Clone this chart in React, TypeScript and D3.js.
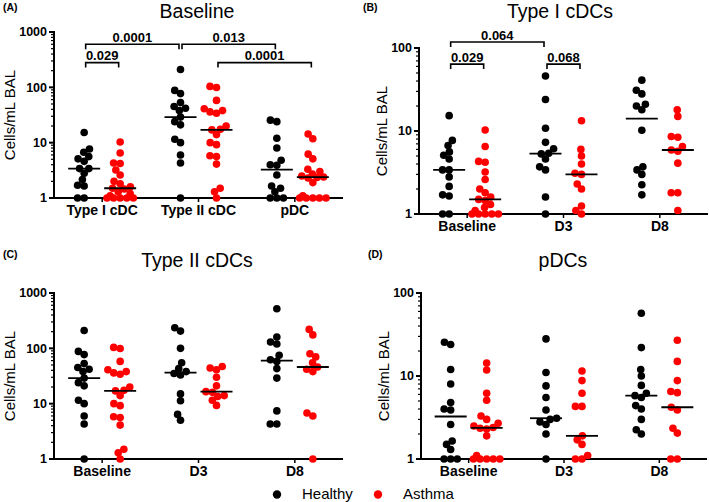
import React from 'react';
import * as d3 from 'd3';

const FONT = '"Liberation Sans", Arial, Helvetica, sans-serif';

// ---------- Data (cells/mL BAL) ----------
const groupNames = ['Healthy', 'Asthma'];
const groupColors = ['#000000', '#ff0000'];

const panelACategories = ['Type I cDC', 'Type II cDC', 'pDC'];
const timeCategories = ['Baseline', 'D3', 'D8'];

// Type I cDCs
const t1BaseHealthy = [15.3, 7.7, 6.7, 5.6, 5.1, 4.6, 3.4, 3.4, 2.8, 2.15, 1.7, 1.65, 1, 1];
const t1BaseAsthma = [10.3, 6.5, 4.3, 4.2, 3.2, 2.6, 2.0, 1.8, 1.6, 1.5, 1.45, 1.3, 1.2, 1.1, 1, 1, 1, 1, 1];
const t1D3Healthy = [46, 24, 10.8, 7.3, 6.1, 5.4, 5.3, 4.6, 3.7, 3.4, 1.6, 1];
const t1D3Asthma = [13.3, 6.0, 5.0, 4.0, 3.1, 3.0, 2.3, 2.0, 1.25, 1.1, 1];
const t1D8Healthy = [41, 31, 28, 21, 20, 18, 10.2, 3.7, 3.4, 3.0, 2.25, 1.7];
const t1D8Asthma = [18, 15, 8.6, 8.4, 6.5, 5.9, 5.7, 4.1, 1.8, 1.8, 1.1];

// Type II cDCs
const t2BaseHealthy = [210, 88, 77, 53, 45, 42, 38, 29, 24, 21, 11.5, 10, 6, 4.3, 1];
const t2BaseAsthma = [104, 99, 58, 41, 38, 36, 34, 20, 17.5, 17, 14, 10, 9.2, 5.8, 5.6, 4.1, 1.5, 1.3, 1];
const t2D3Healthy = [235, 205, 100, 55, 43, 38, 35, 33, 15, 11.3, 6.4, 5];
const t2D3Asthma = [47, 44, 41, 30, 21, 16.5, 16, 14, 13.5, 11.5, 9.3];
const t2D8Healthy = [520, 160, 130, 120, 75, 62, 58, 43, 29, 7.4, 4.3, 4.3];
const t2D8Asthma = [220, 175, 80, 70, 55, 46, 42, 38, 6.8, 6.0, 1];

// pDCs
const pdcBaseHealthy = [25.5, 24, 12, 8, 4.8, 4, 3.9, 2.6, 1.65, 1.5, 1.3, 1, 1, 1];
const pdcBaseAsthma = [14.3, 11.8, 6.2, 5.1, 3.3, 3.0, 2.7, 2.5, 2.4, 2.35, 2.3, 1.9, 1.1, 1, 1, 1, 1, 1];
const pdcD3Healthy = [28, 11, 7.6, 5.5, 3.9, 3.1, 3.0, 2.8, 2.6, 2.0, 1];
const pdcD3Asthma = [11.5, 8.8, 6.2, 4.3, 4.3, 1.9, 1.7, 1.5, 1.1, 1, 1];
const pdcD8Healthy = [57, 22, 12, 10, 7.7, 6.2, 5.8, 5.5, 4.4, 4.0, 3.0, 2.25, 2.0];
const pdcD8Asthma = [27, 15, 8.8, 6.5, 6.3, 4.2, 3.9, 2.35, 2.05, 1, 1];

// Significance brackets: [category, group] -> [category, group], height in data units
const bracketsA = [
  { from: [0, 0], to: [0, 1], at: 280, label: '0.029' },
  { from: [0, 0], to: [1, 0], at: 600, label: '0.0001' },
  { from: [1, 0], to: [2, 0], at: 600, label: '0.013' },
  { from: [1, 1], to: [2, 1], at: 280, label: '0.0001' },
];
const bracketsB = [
  { from: [0, 0], to: [1, 0], at: 118, label: '0.064' },
  { from: [0, 0], to: [0, 1], at: 64, label: '0.029' },
  { from: [1, 0], to: [1, 1], at: 64, label: '0.068' },
];

const panels = [
  {
    tag: '(A)', title: 'Baseline', cats: panelACategories, yMax: 1000,
    data: [[t1BaseHealthy, t1BaseAsthma], [t2BaseHealthy, t2BaseAsthma], [pdcBaseHealthy, pdcBaseAsthma]],
    brackets: bracketsA,
    box: { left: 54, right: 343, top: 32, bottom: 198, titleX: 197, titleY: 17.5, tagX: 3, tagY: 11, ylabX: 15 },
  },
  {
    tag: '(B)', title: 'Type I cDCs', cats: timeCategories, yMax: 100,
    data: [[t1BaseHealthy, t1BaseAsthma], [t1D3Healthy, t1D3Asthma], [t1D8Healthy, t1D8Asthma]],
    brackets: bracketsB,
    box: { left: 419, right: 708, top: 48, bottom: 214, titleX: 560, titleY: 17.5, tagX: 363, tagY: 11, ylabX: 387 },
  },
  {
    tag: '(C)', title: 'Type II cDCs', cats: timeCategories, yMax: 1000,
    data: [[t2BaseHealthy, t2BaseAsthma], [t2D3Healthy, t2D3Asthma], [t2D8Healthy, t2D8Asthma]],
    brackets: [],
    box: { left: 54, right: 343, top: 293, bottom: 459, titleX: 197, titleY: 267, tagX: 3, tagY: 258, ylabX: 15 },
  },
  {
    tag: '(D)', title: 'pDCs', cats: timeCategories, yMax: 100,
    data: [[pdcBaseHealthy, pdcBaseAsthma], [pdcD3Healthy, pdcD3Asthma], [pdcD8Healthy, pdcD8Asthma]],
    brackets: [],
    box: { left: 421, right: 707, top: 293, bottom: 459, titleX: 563, titleY: 267, tagX: 368, tagY: 258, ylabX: 389 },
  },
];

const R = 3.8;
const COLLIDE = 6.6;
const CAP = 14;
const GROUP_OFFSET = 18;
const MEDIAN_HALF = 16;

function swarm(ys: number[]): number[] {
  const order = ys.map((_, i) => i).sort((a, b) => ys[b] - ys[a]);
  const placed: { x: number; y: number }[] = [];
  const xs = new Array(ys.length).fill(0);
  const D = COLLIDE;
  for (const i of order) {
    const y = ys[i];
    const cands = [0];
    for (const p of placed) {
      const dy = Math.abs(p.y - y);
      if (dy < D) {
        const dx = Math.sqrt(D * D - dy * dy);
        cands.push(p.x + dx, p.x - dx);
      }
    }
    cands.sort((a, b) => Math.abs(a) - Math.abs(b) || a - b);
    let chosen: number | null = null;
    for (const c of cands) {
      if (Math.abs(c) > CAP) continue;
      if (placed.every((p) => (p.x - c) ** 2 + (p.y - y) ** 2 >= D * D - 0.01)) {
        chosen = c;
        break;
      }
    }
    if (chosen === null) {
      let best = 0;
      let bestD = -1;
      for (let c = -CAP; c <= CAP; c += 0.5) {
        const m = Math.min(...placed.map((p) => Math.hypot(p.x - c, p.y - y)));
        if (m > bestD) { bestD = m; best = c; }
      }
      chosen = best;
    }
    xs[i] = chosen;
    placed.push({ x: chosen, y });
  }
  return xs;
}

function Panel({ p }: { p: (typeof panels)[number] }) {
  const b = p.box;
  const x = d3.scalePoint<string>().domain(p.cats).range([b.left, b.right]).padding(0.5);
  const y = d3.scaleLog().domain([1, p.yMax]).range([b.bottom, b.top]);
  const ticks = y.ticks();
  const isMajor = (t: number) => Math.abs(Math.log10(t) - Math.round(Math.log10(t))) < 1e-9;
  const gx = (ci: number, gi: number) => (x(p.cats[ci]) as number) + (gi === 0 ? -GROUP_OFFSET : GROUP_OFFSET);

  return (
    <g>
      <text x={b.tagX} y={b.tagY} fontFamily={FONT} fontWeight="bold" fontSize={10.5}>{p.tag}</text>
      <text x={b.titleX} y={b.titleY} textAnchor="middle" fontFamily={FONT} fontSize={19.5}>{p.title}</text>
      <text
        transform={`translate(${b.ylabX},${(b.top + b.bottom) / 2}) rotate(-90)`}
        textAnchor="middle" fontFamily={FONT} fontSize={15}
      >Cells/mL BAL</text>

      {/* y axis */}
      <line x1={b.left} x2={b.left} y1={b.top - 1} y2={b.bottom + 1} stroke="#000" strokeWidth={2} />
      {ticks.map((t) => (
        <line key={'t' + t} x1={b.left - (isMajor(t) ? 5 : 3)} x2={b.left} y1={y(t)} y2={y(t)} stroke="#000" strokeWidth={isMajor(t) ? 2 : 1.2} />
      ))}
      {ticks.filter(isMajor).map((t) => (
        <text key={'l' + t} x={b.left - 7} y={y(t)} dy="0.35em" textAnchor="end" fontFamily={FONT} fontWeight="bold" fontSize={12.5}>{d3.format('d')(t)}</text>
      ))}

      {/* x axis */}
      <line x1={b.left - 1} x2={b.right} y1={b.bottom} y2={b.bottom} stroke="#000" strokeWidth={2} />
      {p.cats.map((c) => (
        <g key={c}>
          <line x1={x(c)} x2={x(c)} y1={b.bottom} y2={b.bottom + 4} stroke="#000" strokeWidth={1.5} />
          <text x={x(c)} y={b.bottom + 17} textAnchor="middle" fontFamily={FONT} fontWeight="bold" fontSize={14}>{c}</text>
        </g>
      ))}

      {/* brackets */}
      {p.brackets.map((br, i) => {
        const x1 = gx(br.from[0], br.from[1]) + 1.5;
        const x2 = gx(br.to[0], br.to[1]) - 1.5;
        const yy = y(br.at);
        return (
          <g key={'b' + i}>
            <path d={`M${x1},${yy + 5}V${yy}H${x2}V${yy + 5}`} fill="none" stroke="#000" strokeWidth={1.6} />
            <text x={(x1 + x2) / 2} y={yy - 2.5} textAnchor="middle" fontFamily={FONT} fontWeight="bold" fontSize={13}>{br.label}</text>
          </g>
        );
      })}

      {/* points + medians */}
      {p.data.map((pair, ci) =>
        pair.map((vals, gi) => {
          const cx = gx(ci, gi);
          const ys = vals.map((v) => y(v));
          const xs = swarm(ys);
          const med = d3.median(vals) as number;
          return (
            <g key={ci + '-' + gi}>
              {vals.map((v, i) => (
                <circle key={i} cx={cx + xs[i]} cy={ys[i]} r={R} fill={groupColors[gi]} />
              ))}
              <line x1={cx - MEDIAN_HALF} x2={cx + MEDIAN_HALF} y1={y(med)} y2={y(med)} stroke="#000" strokeWidth={1.8} />
            </g>
          );
        })
      )}
    </g>
  );
}

export default function App() {
  const legendX = [277, 378];
  return (
    <svg width={709} height={502} style={{ position: 'absolute', left: 0, top: 0, background: '#fff' }}>
      <rect width={709} height={502} fill="#fff" />
      {panels.map((p) => <Panel key={p.tag} p={p} />)}
      {groupNames.map((g, i) => (
        <g key={g}>
          <circle cx={legendX[i]} cy={494.5} r={4.2} fill={groupColors[i]} />
          <text x={legendX[i] + 25} y={499} fontFamily={FONT} fontSize={15}>{g}</text>
        </g>
      ))}
    </svg>
  );
}
